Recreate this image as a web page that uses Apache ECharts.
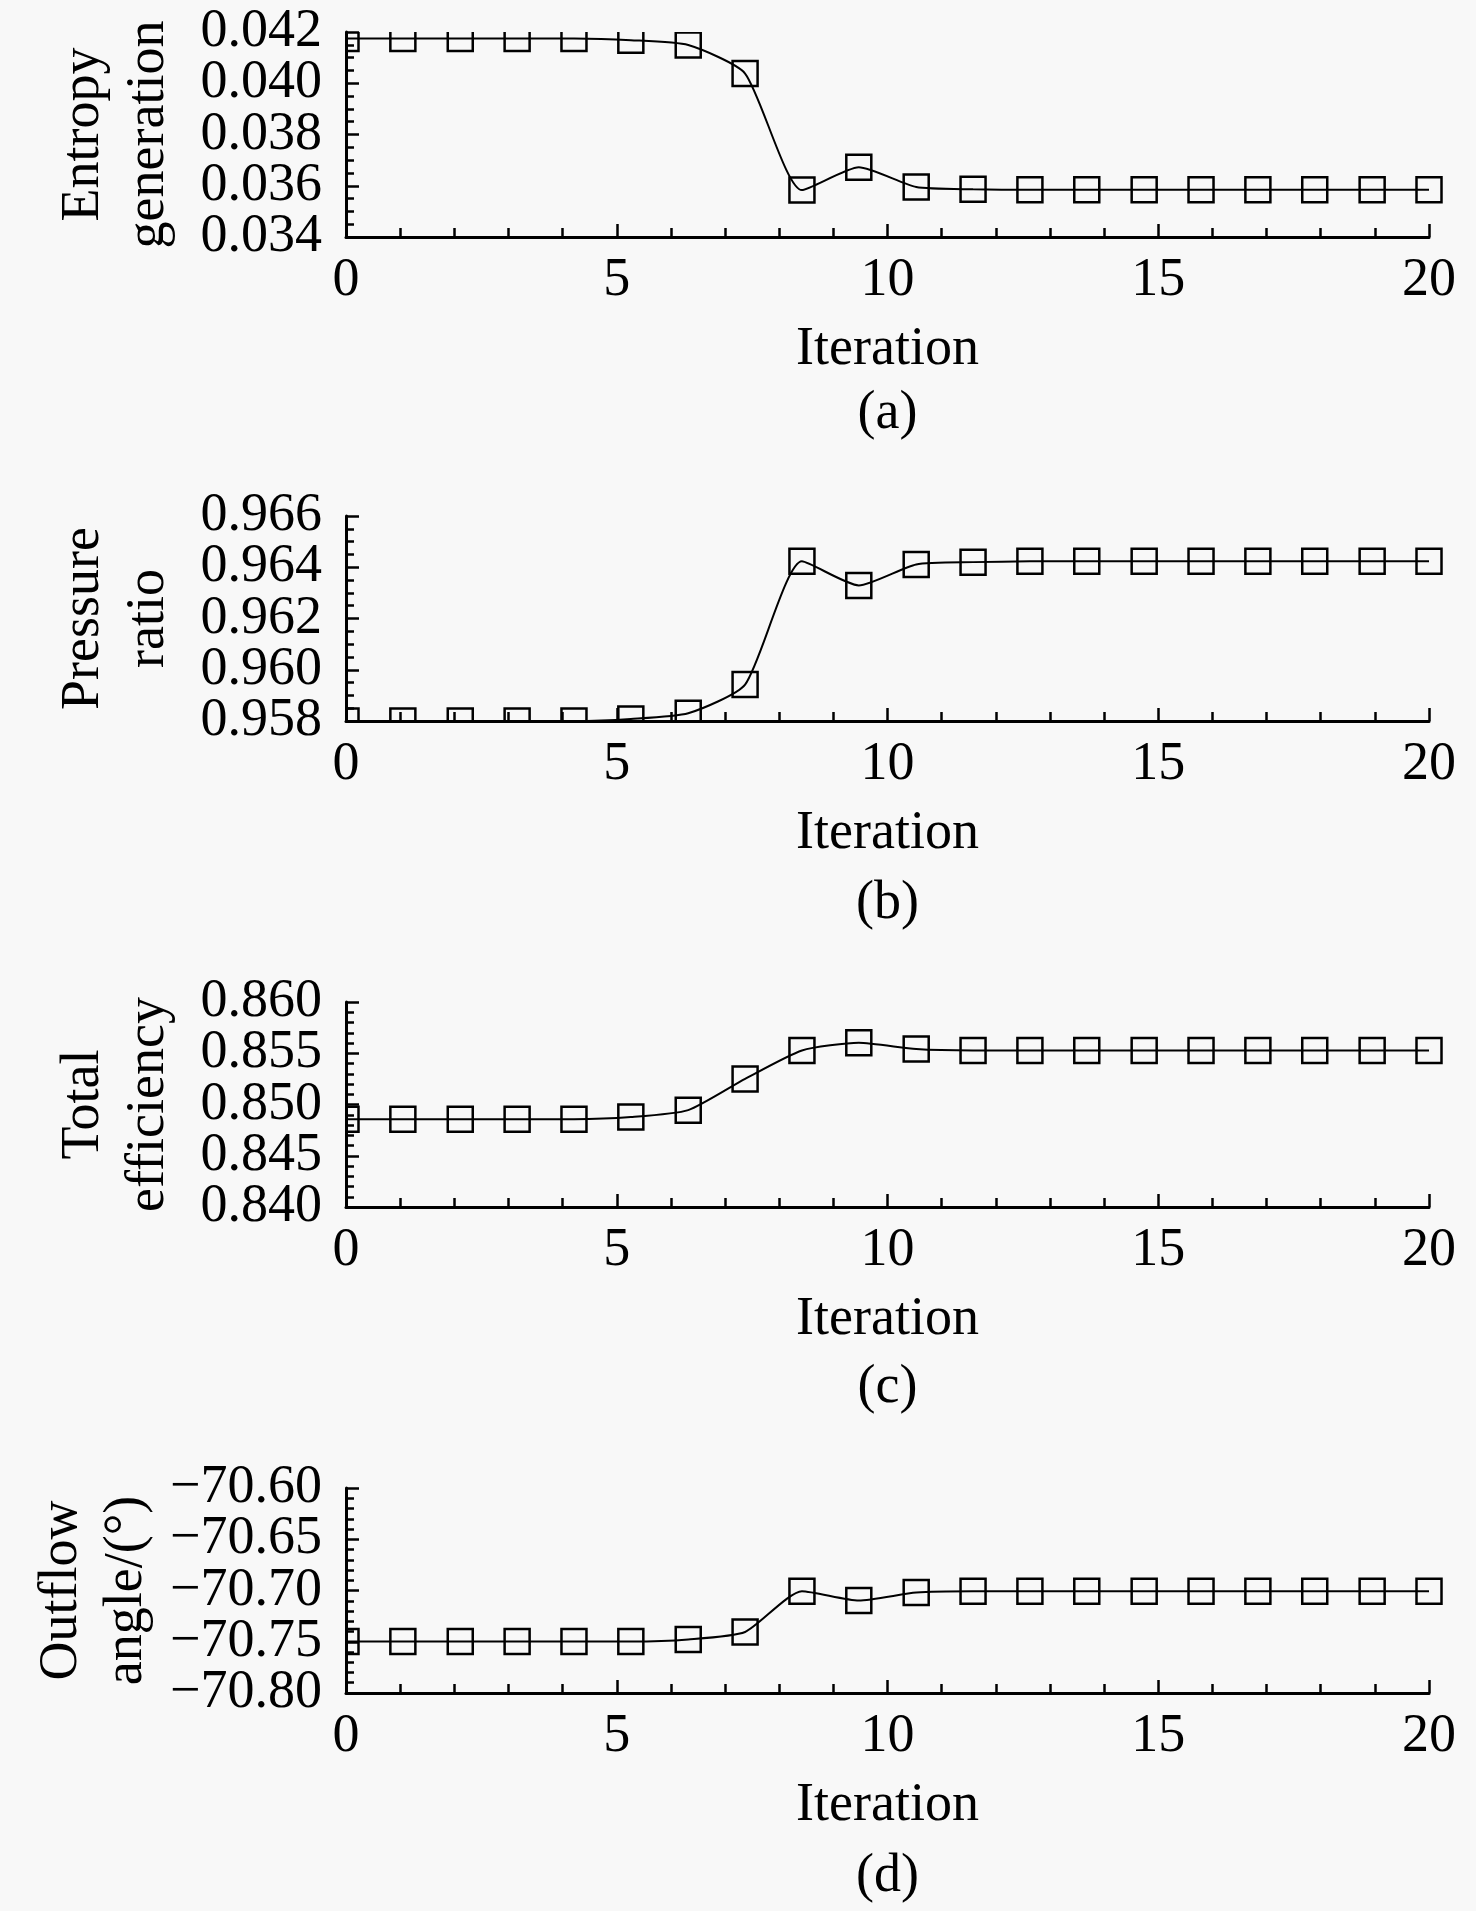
<!DOCTYPE html>
<html lang="en">
<head>
    <meta charset="UTF-8">
    <title>Iteration history</title>
    <script src="https://cdn.jsdelivr.net/npm/echarts@6.0.0/dist/echarts.min.js"></script>
    <style>
        html, body { margin: 0; padding: 0; background: #f8f8f8; }
        #main { width: 1476px; height: 1911px; }
    </style>
</head>
<body>
    <div id="main"></div>
    <script>
        // data
        var iterations = [0, 1.05, 2.11, 3.16, 4.21, 5.26, 6.32, 7.37, 8.42, 9.47,
            10.53, 11.58, 12.63, 13.68, 14.74, 15.79, 16.84, 17.89, 18.95, 20];
        var entropy = [0.04175, 0.04175, 0.04175, 0.04175, 0.04175, 0.04168, 0.04149, 0.04038, 0.03583, 0.03672,
            0.03595, 0.03586, 0.03584, 0.03584, 0.03584, 0.03584, 0.03584, 0.03584, 0.03584, 0.03584];
        var pressure = [0.958, 0.958, 0.958, 0.958, 0.958, 0.95808, 0.95830, 0.95942, 0.96423, 0.96329,
            0.96411, 0.96420, 0.96423, 0.96423, 0.96423, 0.96423, 0.96423, 0.96423, 0.96423, 0.96423];
        var efficiency = [0.84856, 0.84856, 0.84856, 0.84856, 0.84856, 0.84877, 0.84945, 0.85250, 0.85527, 0.85602,
            0.85541, 0.85527, 0.85527, 0.85527, 0.85527, 0.85527, 0.85527, 0.85527, 0.85527, 0.85527];
        var outflow = [-70.7497, -70.7497, -70.7497, -70.7497, -70.7497, -70.7497, -70.7477, -70.7405, -70.7007, -70.7098,
            -70.7020, -70.7007, -70.7007, -70.7007, -70.7007, -70.7007, -70.7007, -70.7007, -70.7007, -70.7007];

        var yNames = ['Entropy\ngeneration', 'Pressure\nratio', 'Total\nefficiency', 'Outflow\nangle/(\u00b0)'];
        var panelTags = ['(a)', '(b)', '(c)', '(d)'];
        var yMin = [0.034, 0.958, 0.840, -70.80];
        var yMax = [0.042, 0.966, 0.860, -70.60];
        var yStep = [0.002, 0.002, 0.005, 0.05];
        var yMinorSplit = [4, 4, 5, 5];
        var yDigits = [3, 3, 3, 2];
        // tick labels, split over two label axes so the tightly packed labels are not thinned out
        var yLabelsA = [[0.034, 0.038, 0.042], [0.958, 0.962, 0.966], [0.840, 0.850, 0.860], [-70.80, -70.70, -70.60]];
        var yLabelsB = [[0.036, 0.040], [0.960, 0.964], [0.845, 0.855], [-70.75, -70.65]];
        var series = [entropy, pressure, efficiency, outflow];

        var bg = '#f8f8f8';
        var font = 'Liberation Serif';
        var gridTop = [32, 516, 1002, 1488];
        var gridH = 205;
        var gridL = 346;
        var gridR = 47;
        var tagY = [414, 904, 1388, 1877];

        var chart = echarts.init(document.getElementById('main'));

        function yLabel(values, digits) {
            return {
                color: '#000', fontFamily: font, fontSize: 54, margin: 24, padding: [0, 0, 8, 0],
                showMinLabel: true, showMaxLabel: true, customValues: values,
                formatter: function (v) { return v.toFixed(digits).replace('-', '\u2212'); }
            };
        }

        var grids = [], xAxes = [], yAxes = [], extraY = [], lines = [], graphics = [];
        for (var i = 0; i < 4; i++) {
            grids.push({ left: gridL, right: gridR, top: gridTop[i], height: gridH });
            xAxes.push({
                type: 'value', gridIndex: i, min: 0, max: 20, interval: 5, zlevel: 2,
                name: 'Iteration', nameLocation: 'middle', nameGap: 86,
                nameTextStyle: { color: '#000', fontFamily: font, fontSize: 54 },
                axisLine: { lineStyle: { color: '#000', width: 3 } },
                axisTick: { inside: true, length: 13, lineStyle: { color: '#000', width: 2.5 } },
                minorTick: { show: true, splitNumber: 5, length: 9, lineStyle: { color: '#000', width: 2.5 } },
                splitLine: { show: false },
                axisLabel: { color: '#000', fontFamily: font, fontSize: 54, margin: 17, showMinLabel: true, showMaxLabel: true }
            });
            yAxes.push({
                type: 'value', gridIndex: i, min: yMin[i], max: yMax[i], interval: yStep[i], zlevel: 2,
                name: yNames[i], nameLocation: 'middle', nameRotate: 90, nameGap: 165,
                nameTextStyle: { color: '#000', fontFamily: font, fontSize: 54, lineHeight: 65 },
                axisLine: { show: true, lineStyle: { color: '#000', width: 3 } },
                axisTick: { inside: true, length: 13, lineStyle: { color: '#000', width: 2.5 } },
                minorTick: { show: true, splitNumber: yMinorSplit[i], length: 8, lineStyle: { color: '#000', width: 2.5 } },
                splitLine: { show: false },
                axisLabel: yLabel(yLabelsA[i], yDigits[i])
            });
            extraY.push({
                type: 'value', gridIndex: i, position: 'left', offset: 0, min: yMin[i], max: yMax[i], zlevel: 2,
                axisLine: { show: false }, axisTick: { show: false }, minorTick: { show: false }, splitLine: { show: false },
                axisLabel: yLabel(yLabelsB[i], yDigits[i])
            });
            lines.push({
                type: 'line', xAxisIndex: i, yAxisIndex: i, smooth: 0.2,
                symbol: 'rect', symbolSize: 25, showAllSymbol: true,
                itemStyle: { color: 'transparent', borderColor: '#000', borderWidth: 2.5 },
                lineStyle: { color: '#000', width: 2 },
                data: iterations.map(function (x, k) { return [x, series[i][k]]; })
            });
            // mask marker overflow outside the left, top and bottom edges of the frame
            var T = gridTop[i], B = gridTop[i] + gridH, R = 1476 - gridR;
            graphics.push(
                { type: 'rect', zlevel: 1, z: 10, shape: { x: gridL - 16, y: T - 16, width: 16, height: gridH + 32 }, style: { fill: bg } },
                { type: 'rect', zlevel: 1, z: 10, shape: { x: gridL - 16, y: B, width: R - gridL + 40, height: 16 }, style: { fill: bg } },
                { type: 'rect', zlevel: 1, z: 10, shape: { x: gridL, y: T - 16, width: R - gridL + 20, height: 16 }, style: { fill: bg } },
                {
                    type: 'text', x: gridL + (R - gridL) / 2, y: tagY[i],
                    style: { text: panelTags[i], fill: '#000', fontFamily: font, fontSize: 54, align: 'center', verticalAlign: 'middle' }
                }
            );
        }

        chart.setOption({
            backgroundColor: bg,
            animation: false,
            grid: grids,
            xAxis: xAxes,
            yAxis: yAxes.concat(extraY),
            series: lines,
            graphic: graphics
        });
    </script>
</body>
</html>
